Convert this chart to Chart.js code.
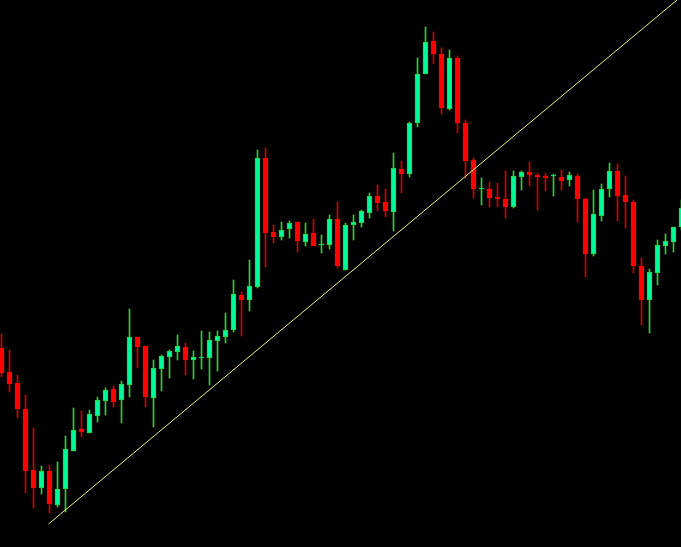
<!DOCTYPE html>
<html>
<head>
<meta charset="utf-8">
<title>Candles</title>
<script src="https://cdn.jsdelivr.net/npm/chart.js@4.4.1/dist/chart.umd.min.js"></script>
<style>
    html, body {
        margin: 0;
        padding: 0;
        background: #000000;
        overflow: hidden;
    }
    #priceChart {
        display: block;
    }
</style>
</head>
<body>
<canvas id="priceChart" width="681" height="547"></canvas>
<script>
// Candle values (no axis shown, so prices are in screen units)
const opens = [
    199, 175, 164, 138, 77, 59, 76, 42, 58, 96,
    118, 114, 131, 146, 158, 147, 162, 210, 201, 149,
    178, 190, 195, 200, 187, 189, 189, 206, 210, 217,
    252, 247, 260, 389, 315, 310, 318, 325, 305, 314,
    302, 302, 328, 277, 322, 324, 334, 351, 345, 335,
    378, 373, 424, 473, 506, 493, 438, 489, 424, 387,
    358, 358, 350, 348, 340, 370, 375, 372, 371, 371,
    370, 367, 371, 348, 293, 331, 358, 376, 352, 345,
    281, 247, 274, 301, 305, 320
];
const highs = [
    213, 197, 172, 152, 119, 81, 82, 85, 111, 139,
    136, 137, 150, 159, 161, 166, 238, 210, 201, 187,
    192, 197, 212, 204, 196, 216, 215, 216, 234, 267,
    255, 287, 397, 399, 322, 325, 326, 325, 324, 328,
    312, 332, 345, 324, 332, 337, 354, 362, 358, 394,
    386, 425, 489, 520, 515, 499, 497, 491, 427, 389,
    369, 365, 364, 376, 376, 376, 385, 374, 374, 373,
    377, 375, 373, 349, 357, 363, 384, 383, 371, 347,
    289, 278, 307, 313, 320, 347
];
const lows = [
    170, 155, 129, 54, 39, 53, 34, 40, 35, 96,
    110, 114, 125, 132, 140, 124, 150, 179, 140, 120,
    156, 169, 187, 172, 168, 178, 162, 176, 204, 215,
    211, 236, 259, 280, 304, 307, 309, 295, 301, 301,
    294, 298, 279, 277, 307, 320, 329, 336, 330, 316,
    354, 370, 420, 473, 483, 433, 437, 414, 369, 349,
    342, 340, 340, 329, 339, 357, 361, 337, 356, 351,
    357, 361, 325, 270, 291, 326, 350, 326, 319, 274,
    222, 214, 262, 293, 295, 317
];
const closes = [
    174, 163, 138, 76, 59, 76, 43, 58, 98, 117,
    115, 133, 147, 157, 145, 163, 210, 200, 150, 179,
    191, 196, 201, 187, 190, 189, 207, 211, 217, 253,
    247, 261, 389, 314, 310, 317, 324, 306, 313, 301,
    302, 328, 281, 322, 325, 336, 351, 344, 336, 379,
    373, 424, 473, 505, 493, 439, 489, 424, 386, 358,
    358, 349, 348, 340, 371, 375, 372, 370, 369, 371,
    366, 372, 348, 293, 333, 358, 376, 351, 345, 281,
    247, 275, 302, 306, 320, 339
];

// Trend line anchors: [candle index, price]
const trendStart = [5.875, 23];
const trendEnd = [84.44, 547];

const BULL_BODY = '#00fa9a';
const BULL_WICK = '#32cd32';
const BEAR_BODY = '#ff0000';
const BEAR_WICK = '#d40000';
const TREND_COLOR = '#eeee80';

const isBull = opens.map((o, i) => closes[i] >= o);

const wickData = highs.map((h, i) => ({ x: i, y: [lows[i], h] }));
const bodyData = opens.map((o, i) => ({ x: i, y: [Math.min(o, closes[i]), Math.max(o, closes[i])] }));

const ctx = document.getElementById('priceChart').getContext('2d');

new Chart(ctx, {
    data: {
        datasets: [
            {
                type: 'line',
                data: [
                    { x: trendStart[0], y: trendStart[1] },
                    { x: trendEnd[0], y: trendEnd[1] }
                ],
                borderColor: TREND_COLOR,
                borderWidth: 1,
                pointRadius: 0,
                tension: 0,
                order: -1
            },
            {
                type: 'bar',
                data: bodyData,
                backgroundColor: isBull.map(b => b ? BULL_BODY : BEAR_BODY),
                borderColor: isBull.map(b => b ? BULL_WICK : BEAR_BODY),
                borderWidth: 1,
                borderSkipped: false,
                barThickness: 5,
                minBarLength: 1,
                grouped: false,
                order: 0
            },
            {
                type: 'bar',
                data: wickData,
                backgroundColor: isBull.map(b => b ? BULL_WICK : BEAR_WICK),
                borderWidth: 0,
                barThickness: 1,
                grouped: false,
                order: 1
            }
        ]
    },
    options: {
        responsive: false,
        devicePixelRatio: 1,
        animation: false,
        layout: { padding: 0 },
        plugins: {
            legend: { display: false },
            tooltip: { enabled: false }
        },
        scales: {
            x: {
                type: 'linear',
                display: false,
                offset: false,
                min: -0.1875,
                max: 84.9375
            },
            y: {
                type: 'linear',
                display: false,
                min: 0,
                max: 547
            }
        }
    }
});
</script>
</body>
</html>
